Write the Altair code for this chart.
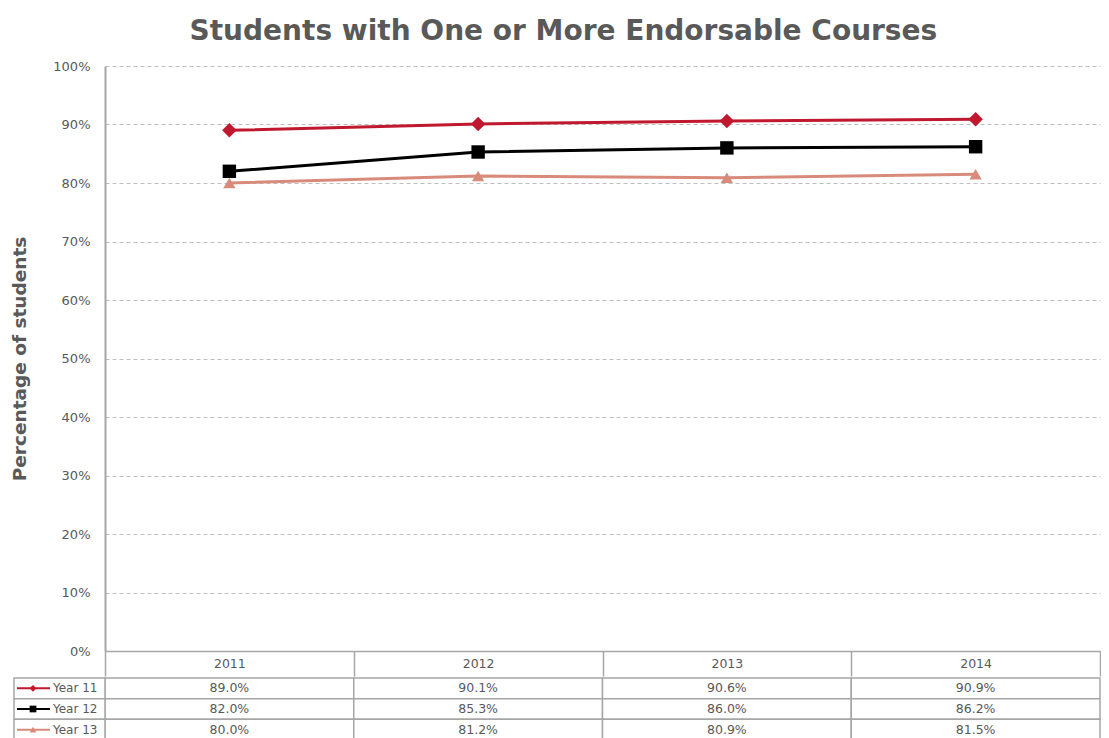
import altair as alt
import pandas as pd

years = ["2011", "2012", "2013", "2014"]
series = ["Year 11", "Year 12", "Year 13"]
year11 = [89.0, 90.1, 90.6, 90.9]
year12 = [82.0, 85.3, 86.0, 86.2]
year13 = [80.0, 81.2, 80.9, 81.5]
y_ticks = [0, 10, 20, 30, 40, 50, 60, 70, 80, 90, 100]
colors = ["#C0182E", "#000000", "#D98B7B"]
shapes = ["diamond", "square", "triangle-up"]
sizes = [210, 150, 200]

values = {"Year 11": year11, "Year 12": year12, "Year 13": year13}
rows = []
for s in series:
    for yr, v in zip(years, values[s]):
        rows.append({"year": yr, "series": s, "value": v, "label": f"{v:.1f}%"})
df = pd.DataFrame(rows)

TEXT = "#595959"
GRID = "#BFBFBF"
BORDER = "#A6A6A6"
FONT = "DejaVu Sans"
W = 995

xscale = alt.Scale(domain=years, paddingInner=0, paddingOuter=0)
color_scale = alt.Scale(domain=series, range=colors)
shape_scale = alt.Scale(domain=series, range=shapes)
size_scale = alt.Scale(domain=series, range=sizes)

xaxis = alt.Axis(
    title=None,
    labelAngle=0,
    labelFontSize=12.5,
    labelColor=TEXT,
    labelFont=FONT,
    labelPadding=-19,
    labelBaseline="top",
    tickBand="extent",
    tickSize=25,
    tickColor=BORDER,
    tickWidth=1.5,
    domain=True,
    domainColor=BORDER,
    domainWidth=1.5,
    grid=False,
)

base = alt.Chart(df)
lines = base.mark_line(strokeWidth=3).encode(
    x=alt.X("year:N", scale=xscale, axis=xaxis),
    y=alt.Y(
        "value:Q",
        scale=alt.Scale(domain=[0, 100], nice=False, zero=True),
        axis=alt.Axis(
            values=y_ticks,
            labelExpr="datum.value + '%'",
            title="Percentage of students",
            titleFontSize=18.5,
            titleFontWeight="bold",
            titleColor=TEXT,
            titleFont=FONT,
            titleX=-86,
            titleY=292.5,
            titleBaseline="middle",
            titleAlign="center",
            labelFontSize=13,
            labelColor=TEXT,
            labelFont=FONT,
            labelPadding=15,
            ticks=False,
            grid=True,
            gridColor=GRID,
            gridDash=[4, 3],
            gridWidth=1,
            domain=True,
            domainColor=BORDER,
            domainWidth=2,
        ),
    ),
    color=alt.Color("series:N", scale=color_scale, legend=None),
    detail="series:N",
)
points = base.mark_point(filled=True, opacity=1).encode(
    x=alt.X("year:N", scale=xscale, axis=xaxis),
    y=alt.Y("value:Q"),
    color=alt.Color("series:N", scale=color_scale, legend=None),
    shape=alt.Shape("series:N", scale=shape_scale, legend=None),
    size=alt.Size("series:N", scale=size_scale, legend=None),
)
top = alt.layer(lines, points).properties(width=W, height=585)

# table data
yscale = alt.Scale(domain=series, paddingInner=0, paddingOuter=0)

tbase = alt.Chart(df)
cells = tbase.mark_rect(fill="white", stroke=BORDER, strokeWidth=1.5).encode(
    x=alt.X("year:N", scale=xscale, axis=None),
    y=alt.Y("series:N", scale=yscale, axis=None),
)
ctext = tbase.mark_text(fontSize=12.5, color=TEXT, font=FONT).encode(
    x=alt.X("year:N", scale=xscale, axis=None),
    y=alt.Y("series:N", scale=yscale, axis=None),
    text="label:N",
)
ldf = pd.DataFrame({"series": series})
lbase = alt.Chart(ldf)
lcells = lbase.mark_rect(fill="white", stroke=BORDER, strokeWidth=1.5).encode(
    x=alt.value(-91), x2=alt.value(0),
    y=alt.Y("series:N", scale=yscale, axis=None),
)
lrule = lbase.mark_rule(strokeWidth=2).encode(
    x=alt.value(-88), x2=alt.value(-55),
    y=alt.Y("series:N", scale=yscale, axis=None),
    color=alt.Color("series:N", scale=color_scale, legend=None),
)
lpoint = lbase.mark_point(filled=True, opacity=1, size=45).encode(
    x=alt.value(-72),
    y=alt.Y("series:N", scale=yscale, axis=None),
    color=alt.Color("series:N", scale=color_scale, legend=None),
    shape=alt.Shape("series:N", scale=shape_scale, legend=None),
)
ltext = lbase.mark_text(fontSize=12, color=TEXT, font=FONT, align="left").encode(
    x=alt.value(-52),
    y=alt.Y("series:N", scale=yscale, axis=None),
    text="series:N",
)
table = alt.layer(cells, ctext, lcells, lrule, lpoint, ltext).properties(width=W, height=62)

chart = (
    alt.vconcat(top, table, spacing=0)
    .properties(
        title=alt.TitleParams(
            "Students with One or More Endorsable Courses",
            fontSize=28,
            font=FONT,
            fontWeight="bold",
            color=TEXT,
            anchor="middle",
            frame="bounds",
            dx=8,
            offset=14,
        ),
        padding={"left": 2, "top": 10, "right": 0, "bottom": 0},
    )
    .configure_view(stroke=None)
    .configure_concat(spacing=0)
)

chart.save("out.html", embed_options={"renderer": "svg", "actions": False})
